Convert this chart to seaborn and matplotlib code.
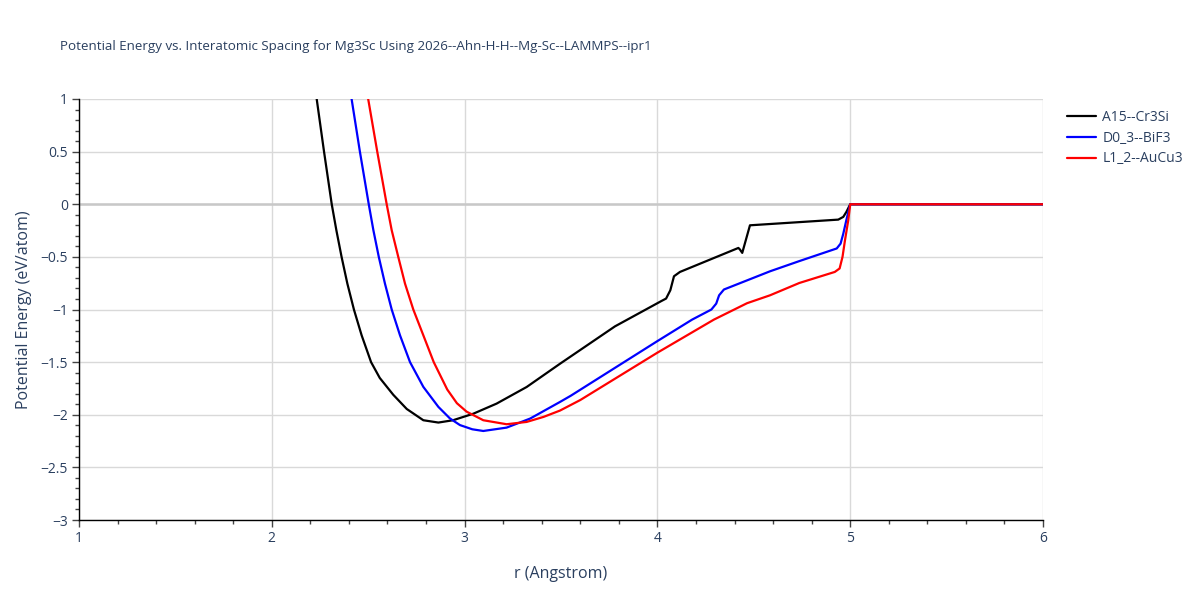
import pandas as pd
import matplotlib
matplotlib.use("Agg")
import matplotlib.pyplot as plt
import seaborn as sns
from matplotlib.ticker import MultipleLocator

# A15--Cr3Si
a15_r = [2.233, 2.271, 2.311, 2.335, 2.362, 2.392, 2.426, 2.466, 2.515, 2.56, 2.63, 2.70,
         2.786, 2.864, 2.94, 3.045, 3.166, 3.322, 3.495, 3.78, 3.91, 4.02, 4.045, 4.067, 4.086,
         4.117, 4.42, 4.428, 4.44, 4.48, 4.938, 4.964, 4.98, 5.0, 6.0]
a15_e = [1.0, 0.5, 0.0, -0.247, -0.5, -0.754, -1.0, -1.245, -1.5, -1.65, -1.81, -1.945,
         -2.052, -2.074, -2.052, -1.99, -1.894, -1.736, -1.515, -1.16, -1.03, -0.92, -0.896, -0.817, -0.684,
         -0.643, -0.415, -0.43, -0.462, -0.20, -0.146, -0.12, -0.073, 0.0, 0.0]

# D0_3--BiF3
d03_r = [2.414, 2.457, 2.503, 2.527, 2.555, 2.587, 2.622, 2.665, 2.717, 2.786, 2.864, 2.924,
         2.976, 3.04, 3.097, 3.218, 3.34, 3.495, 3.55, 4.0, 4.18, 4.28, 4.305, 4.32, 4.345,
         4.584, 4.736, 4.93, 4.95, 4.964, 4.98, 5.0, 6.0]
d03_e = [1.0, 0.5, 0.0, -0.247, -0.5, -0.754, -1.0, -1.245, -1.5, -1.735, -1.925, -2.035,
         -2.098, -2.138, -2.154, -2.122, -2.036, -1.878, -1.82, -1.30, -1.096, -1.0, -0.944, -0.865, -0.81,
         -0.637, -0.54, -0.42, -0.374, -0.28, -0.15, 0.0, 0.0]

# L1_2--AuCu3
l12_r = [2.50, 2.547, 2.596, 2.622, 2.656, 2.691, 2.734, 2.786, 2.84, 2.91, 2.96, 3.01,
         3.097, 3.218, 3.322, 3.41, 3.495, 3.6, 4.0, 4.293, 4.465, 4.584, 4.736, 4.92, 4.945,
         4.96, 4.973, 4.99, 5.0, 6.0]
l12_e = [1.0, 0.5, 0.0, -0.247, -0.5, -0.754, -1.0, -1.245, -1.5, -1.76, -1.89, -1.97,
         -2.052, -2.09, -2.068, -2.02, -1.96, -1.86, -1.41, -1.096, -0.94, -0.865, -0.748, -0.643, -0.61,
         -0.50, -0.34, -0.15, 0.0, 0.0]

names = ["A15--Cr3Si", "D0_3--BiF3", "L1_2--AuCu3"]
colors = ["black", "blue", "red"]

frames = []
for name, r, e in zip(names, [a15_r, d03_r, l12_r], [a15_e, d03_e, l12_e]):
    frames.append(pd.DataFrame({"r": r, "energy": e, "structure": name}))
df = pd.concat(frames, ignore_index=True)

sns.set_theme(style="white")
plt.rcParams["font.family"] = ["Open Sans", "DejaVu Sans"]
text_color = "#2a3f5f"

fig = plt.figure(figsize=(12, 6), dpi=100)
ax = fig.add_axes([0.0658, 0.1333, 0.8034, 0.7017])

ax.grid(True, color="#d9d9d9", linewidth=1)
ax.axhline(0, color="#c8c8c8", linewidth=1.8, zorder=1)

sns.lineplot(data=df, x="r", y="energy", hue="structure", palette=colors,
             sort=False, estimator=None, linewidth=1.6, ax=ax, zorder=3)

ax.set_xlim(1, 6)
ax.set_ylim(-3, 1)
ax.xaxis.set_major_locator(MultipleLocator(1))
ax.xaxis.set_minor_locator(MultipleLocator(0.2))
ax.yaxis.set_major_locator(MultipleLocator(0.5))
ax.yaxis.set_minor_locator(MultipleLocator(0.1))
ax.yaxis.set_major_formatter(plt.FuncFormatter(lambda v, p: f"{v:g}".replace("-", "\u2212")))

for side in ["top", "right"]:
    ax.spines[side].set_visible(False)
for side in ["left", "bottom"]:
    ax.spines[side].set_color("black")
    ax.spines[side].set_linewidth(1)

ax.tick_params(which="major", direction="out", length=5, width=1, color="#444444",
               labelsize=10, labelcolor=text_color, left=True, bottom=True, pad=3)
ax.tick_params(which="minor", direction="out", length=3, width=1, color="#444444",
               left=True, bottom=True)

ax.set_xlabel("r (Angstrom)", fontsize=11.5, color=text_color, labelpad=14)
ax.set_ylabel("Potential Energy (eV/atom)", fontsize=11.5, color=text_color, labelpad=6)

fig.text(0.05, 0.923, "Potential Energy vs. Interatomic Spacing for Mg3Sc Using 2026--Ahn-H-H--Mg-Sc--LAMMPS--ipr1",
         fontsize=9.6, color=text_color, va="center", ha="left")

ax.legend(title=None, loc="upper left", bbox_to_anchor=(1.016, 0.993), frameon=False,
          fontsize=10, labelcolor=text_color, handlelength=2.1, handletextpad=0.45,
          labelspacing=0.4, borderaxespad=0.2)

fig.savefig("out.png", dpi=100)
